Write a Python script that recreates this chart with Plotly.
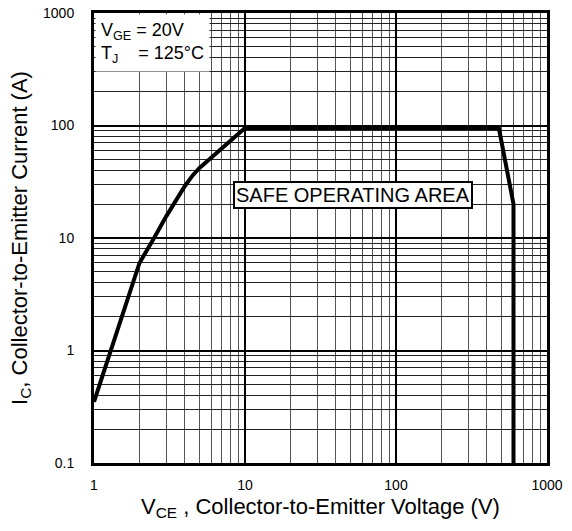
import plotly.graph_objects as go

# Safe operating area boundary
vce = [1, 2, 2.5, 3, 4, 4.5, 5, 10, 480, 600, 600]
ic = [0.35, 6, 10, 15.5, 29, 36, 42, 95, 95, 20, 0.1]

x_major = [1, 10, 100, 1000]
y_major = [0.1, 1, 10, 100, 1000]
x_labels = ["1", "10", "100", "1000"]
y_labels = ["0.1", "1", "10", "100", "1000"]
x_minor = [m * d for d in [1, 10, 100] for m in range(2, 10)]
y_minor = [m * d for d in [0.1, 1, 10, 100] for m in range(2, 10)]

FONT = "Liberation Sans"

fig = go.Figure()
fig.add_trace(go.Scatter(x=vce, y=ic, mode="lines",
                         line=dict(color="black", width=4),
                         showlegend=False, hoverinfo="skip"))

fig.update_layout(
    width=572, height=531,
    margin=dict(l=94, r=25, t=13, b=68),
    paper_bgcolor="white", plot_bgcolor="white",
    font=dict(family=FONT, color="black", size=14),
    xaxis=dict(type="log", range=[0, 3], tickvals=x_major, ticktext=x_labels,
               showgrid=True, gridcolor="black", gridwidth=2,
               ticks="", ticklabelstandoff=7, automargin=False,
               ticklabeloverflow="allow",
               showline=True, linecolor="black", linewidth=3, mirror=True,
               zeroline=False,
               minor=dict(tickvals=x_minor, showgrid=True, gridcolor="#555555", gridwidth=1, ticks=""),
               title=dict(text="V<sub>CE</sub> , Collector-to-Emitter Voltage (V)",
                          font=dict(size=22, family=FONT), standoff=7)),
    yaxis=dict(type="log", range=[-1, 3], tickvals=y_major, ticktext=y_labels,
               showgrid=True, gridcolor="black", gridwidth=2,
               ticks="", ticklabelstandoff=14, automargin=False,
               ticklabeloverflow="allow",
               showline=True, linecolor="black", linewidth=3, mirror=True,
               zeroline=False,
               minor=dict(tickvals=y_minor, showgrid=True, gridcolor="#222222", gridwidth=1, ticks=""),
               title=dict(text="I<sub>C</sub>, Collector-to-Emitter Current (A)",
                          font=dict(size=22, family=FONT), standoff=10)),
)

fig.add_annotation(xref="paper", yref="paper", x=0.003, y=0.997,
                   xanchor="left", yanchor="top", showarrow=False, align="left",
                   text="V<sub>GE</sub> = 20V<br>T<sub>J</sub>\u00a0\u00a0\u00a0\u00a0= 125°C",
                   font=dict(size=18, family=FONT), bgcolor="white", borderpad=5)

fig.add_annotation(x=1.715, y=1.384, xref="x", yref="y", showarrow=False,
                   text="SAFE OPERATING AREA",
                   font=dict(size=20, family=FONT), bgcolor="white",
                   bordercolor="black", borderwidth=2, borderpad=1)

# remove the page's default body margin so the figure fills the window
fig.write_html("out.html", config={"displayModeBar": False},
               post_script="document.body.style.margin='0px';")
